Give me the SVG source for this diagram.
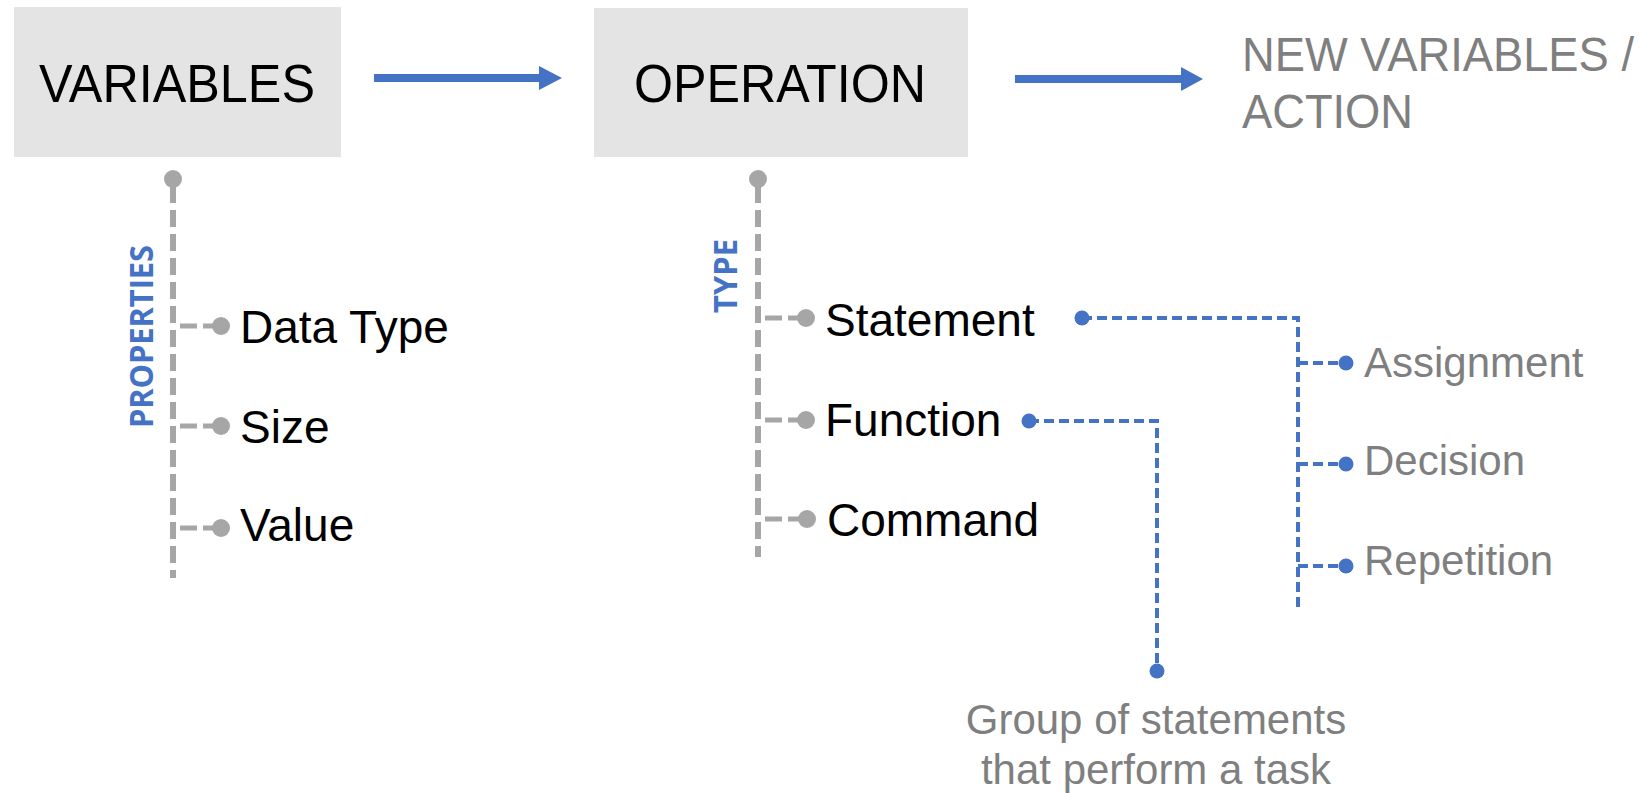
<svg xmlns="http://www.w3.org/2000/svg" width="1647" height="793" viewBox="0 0 1647 793">
<style>
  .box{fill:#e4e4e4}
  .title{font-family:"Liberation Sans",Arial,sans-serif;font-size:53px;fill:#000}
  .grey{font-family:"Liberation Sans",Arial,sans-serif;fill:#7f7f7f}
  .lbl{font-family:"Liberation Sans",Arial,sans-serif;font-size:46px;fill:#000}
  .cat{font-family:"Open Sans","DejaVu Sans",sans-serif;font-weight:bold;font-size:32px;fill:#4472c4}
  .gl{stroke:#a6a6a6;stroke-width:6;fill:none;stroke-dasharray:17 7}
  .gb{stroke:#a6a6a6;stroke-width:5;fill:none;stroke-dasharray:17 6}
  .gd{fill:#a6a6a6}
  .bl{stroke:#4472c4;stroke-width:4;fill:none;stroke-dasharray:10 5}
  .bd{fill:#4472c4}
  .arrow{stroke:#4472c4;stroke-width:8;fill:none}
</style>
<rect width="1647" height="793" fill="#fff"/>
<g id="connectors">
  <line class="arrow" x1="374" y1="78" x2="541" y2="78"/>
  <polygon fill="#4472c4" points="539,66 562,78 539,90"/>
  <line class="arrow" x1="1015" y1="79" x2="1183" y2="79"/>
  <polygon fill="#4472c4" points="1181,67 1203,79 1181,91"/>
  <!-- properties tree -->
  <line class="gl" x1="173" y1="186" x2="173" y2="578"/>
  <circle class="gd" cx="173" cy="179" r="9"/>
  <line class="gb" x1="180" y1="326" x2="221" y2="326"/>
  <circle class="gd" cx="221" cy="326" r="9"/>
  <line class="gb" x1="180" y1="426" x2="221" y2="426"/>
  <circle class="gd" cx="221" cy="426" r="9"/>
  <line class="gb" x1="180" y1="528" x2="221" y2="528"/>
  <circle class="gd" cx="221" cy="528" r="9"/>
  <!-- type tree -->
  <line class="gl" x1="758" y1="186" x2="758" y2="557"/>
  <circle class="gd" cx="758" cy="179" r="9"/>
  <line class="gb" x1="765" y1="318" x2="806" y2="318"/>
  <circle class="gd" cx="806" cy="318" r="9"/>
  <line class="gb" x1="765" y1="420" x2="806" y2="420"/>
  <circle class="gd" cx="806" cy="420" r="9"/>
  <line class="gb" x1="765" y1="519" x2="807" y2="519"/>
  <circle class="gd" cx="807" cy="519" r="9"/>
  <!-- statement sub-tree -->
  <circle class="bd" cx="1082" cy="318" r="7.5"/>
  <polyline class="bl" points="1082,318 1298,318 1298,607"/>
  <line class="bl" x1="1298" y1="363" x2="1346" y2="363"/>
  <circle class="bd" cx="1346" cy="363" r="7.5"/>
  <line class="bl" x1="1298" y1="464" x2="1346" y2="464"/>
  <circle class="bd" cx="1346" cy="464" r="7.5"/>
  <line class="bl" x1="1298" y1="566" x2="1346" y2="566"/>
  <circle class="bd" cx="1346" cy="566" r="7.5"/>
  <!-- function sub-tree -->
  <circle class="bd" cx="1029" cy="421" r="7.5"/>
  <polyline class="bl" points="1029,421 1157,421 1157,671"/>
  <circle class="bd" cx="1157" cy="671" r="7.5"/>
</g>
<g id="variables">
  <rect class="box" x="14" y="7" width="327" height="150"/>
  <text class="title" x="39" y="102" textLength="276" lengthAdjust="spacingAndGlyphs">VARIABLES</text>
</g>
<g id="operation">
  <rect class="box" x="594" y="8" width="374" height="149"/>
  <text class="title" x="634" y="102" textLength="292" lengthAdjust="spacingAndGlyphs">OPERATION</text>
</g>
<g id="new-variables">
  <text class="grey" font-size="48" x="1242" y="71" textLength="392" lengthAdjust="spacingAndGlyphs">NEW VARIABLES /</text>
  <text class="grey" font-size="48" x="1242" y="128" textLength="171" lengthAdjust="spacingAndGlyphs">ACTION</text>
</g>
<g id="properties">
  <text class="cat" transform="translate(153,428) rotate(-90)" textLength="183" lengthAdjust="spacingAndGlyphs">PROPERTIES</text>
</g>
<g id="data-type"><text class="lbl" font-size="45" x="240" y="343">Data Type</text></g>
<g id="size"><text class="lbl" font-size="45" x="240" y="443">Size</text></g>
<g id="value"><text class="lbl" font-size="45" x="240" y="541">Value</text></g>
<g id="type">
  <text class="cat" transform="translate(737,313) rotate(-90)" textLength="74" lengthAdjust="spacingAndGlyphs">TYPE</text>
</g>
<g id="statement"><text class="lbl" x="825" y="336">Statement</text></g>
<g id="function"><text class="lbl" x="825" y="436">Function</text></g>
<g id="command"><text class="lbl" x="827" y="536">Command</text></g>
<g id="assignment"><text class="grey" font-size="42" x="1364" y="377">Assignment</text></g>
<g id="decision"><text class="grey" font-size="42" x="1364" y="475">Decision</text></g>
<g id="repetition"><text class="grey" font-size="42" x="1364" y="575">Repetition</text></g>
<g id="group-desc">
  <text class="grey" font-size="42" text-anchor="middle" x="1156" y="734">Group of statements</text>
  <text class="grey" font-size="42" text-anchor="middle" x="1156" y="784">that perform a task</text>
</g>
</svg>
